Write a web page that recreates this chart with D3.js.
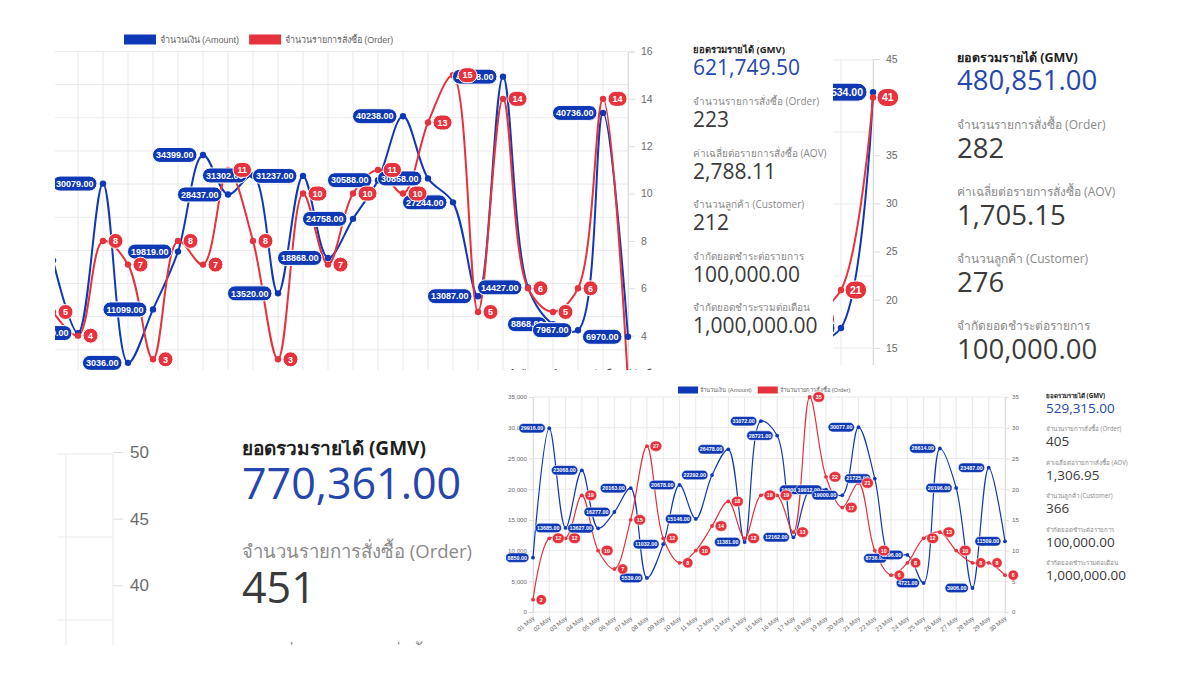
<!DOCTYPE html>
<html>
<head>
<meta charset="utf-8">
<script src="https://cdn.jsdelivr.net/npm/d3@7"></script>
<style>
  html, body { margin: 0; padding: 0; background: #fff; }
  svg { display: block; }
  text { font-family: "Liberation Sans", Arial, "Noto Sans", sans-serif; }
  .stat { font-family: "Open Sans", "Noto Sans", sans-serif; }
</style>
</head>
<body>
<svg id="chart" width="1200" height="675"></svg>
<script>
// ---------- data ----------
// top-left screenshot, dates are cropped off
const amountA = [18500, 7530, 30079, 3036, 11099, 19819, 34399, 28437, 31302, 13520, 31237, 18868,
                 24758, 30588, 40238, 30858, 27244, 13087, 46208, 14427, 8868, 7967, 40736, 6970];
const orderA = [5, 4, 8, 7, 3, 8, 7, 11, 8, 3, 10, 7, 10, 11, 10, 13, 15, 5, 14, 6, 5, 6, 14, 2];
const leftTicksA = [0, 5000, 10000, 15000, 20000, 25000, 30000, 35000, 40000, 45000, 50000];
const rightTicksA = [4, 6, 8, 10, 12, 14, 16];

// narrow strip beside the first stats block
const amountB = [10400, 12778, 45534];
const orderB = [18, 21, 41];
const leftTicksB = [10000, 20000, 30000, 40000, 50000];
const rightTicksB = [15, 20, 25, 30, 35, 45];

// bottom-left strip (axis only)
const leftTicksD = [40000, 50000, 60000];
const rightTicksD = [40, 45, 50];

// bottom-right chart, May
const daysE = ["01 May", "02 May", "03 May", "04 May", "05 May", "06 May", "07 May", "08 May", "09 May", "10 May",
               "11 May", "12 May", "13 May", "14 May", "15 May", "16 May", "17 May", "18 May", "19 May", "20 May",
               "21 May", "22 May", "23 May", "24 May", "25 May", "26 May", "27 May", "28 May", "29 May", "30 May"];
const amountE = [8850, 29916, 13685, 23068, 13627, 16277, 20163, 5539, 11032, 20678, 15146, 22292, 26478, 11381, 31072,
                 28721, 12162, 19900, 19912, 19000, 30077, 21725, 8736, 9296, 4721, 26614, 20196, 3906, 23487, 11509];
const orderE = [2, 12, 12, 19, 10, 7, 15, 27, 12, 8, 10, 14, 18, 12, 19, 19, 13, 35, 22, 17, 21, 10, 6, 8, 12, 13, 10, 8, 8, 6];
const leftTicksE = [0, 5000, 10000, 15000, 20000, 25000, 30000, 35000];
const rightTicksE = [0, 5, 10, 15, 20, 25, 30, 35];

const legendNames = ["จำนวนเงิน (Amount)", "จำนวนรายการสั่งซื้อ (Order)"];
const gmvTitle = "ยอดรวมรายได้ (GMV)";
const statLabels = ["จำนวนรายการสั่งซื้อ (Order)", "ค่าเฉลี่ยต่อรายการสั่งซื้อ (AOV)", "จำนวนลูกค้า (Customer)",
                    "จำกัดยอดชำระต่อรายการ", "จำกัดยอดชำระรวมต่อเดือน"];
const statsB = ["621,749.50", "223", "2,788.11", "212", "100,000.00", "1,000,000.00"];
const statsC = ["480,851.00", "282", "1,705.15", "276", "100,000.00"];
const statsD = ["770,361.00", "451"];
const statsE = ["529,315.00", "405", "1,306.95", "366", "100,000.00", "1,000,000.00"];

// ---------- style ----------
const BLUE = "#0f38b4", RED = "#e6323d", GRID = "#e9e9e9", TICK = "#6b6b6b";

const svg = d3.select("#chart");
const defs = svg.append("defs");
svg.append("rect").attr("width", 1200).attr("height", 675).attr("fill", "#fff");

function panel(id, x, y, w, h) {
    defs.append("clipPath").attr("id", id)
        .append("rect").attr("x", x).attr("y", y).attr("width", w).attr("height", h);
    return svg.append("g").attr("clip-path", `url(#${id})`);
}

function grid(g, xPos, yPos, x0, x1, y0, y1) {
    g.append("g").selectAll("line").data(xPos).join("line")
        .attr("x1", d => d).attr("x2", d => d).attr("y1", y0).attr("y2", y1)
        .attr("stroke", GRID).attr("stroke-width", 1);
    g.append("g").selectAll("line").data(yPos).join("line")
        .attr("x1", x0).attr("x2", x1).attr("y1", d => d).attr("y2", d => d)
        .attr("stroke", GRID).attr("stroke-width", 1);
}

function styleAxis(a, size) {
    a.select(".domain").attr("stroke", "#dcdcdc");
    a.selectAll(".tick line").attr("stroke", "#dcdcdc");
    a.selectAll(".tick text").attr("fill", TICK).attr("font-size", size)
        .attr("font-family", "'Liberation Sans', Arial, sans-serif");
}

// two series, blue pills on the left of blue points, red badges on the right of red points
function series(g, xAt, yL, yR, amount, order, s) {
    const curve = d3.curveCatmullRom.alpha(0.5);
    g.append("path").datum(amount)
        .attr("d", d3.line().x((d, i) => xAt(i)).y(d => yL(d)).curve(curve))
        .attr("fill", "none").attr("stroke", BLUE).attr("stroke-width", s.lw);
    g.append("path").datum(order)
        .attr("d", d3.line().x((d, i) => xAt(i)).y(d => yR(d)).curve(curve))
        .attr("fill", "none").attr("stroke", RED).attr("stroke-width", s.lw);

    g.append("g").selectAll("circle").data(amount).join("circle")
        .attr("cx", (d, i) => xAt(i)).attr("cy", d => yL(d)).attr("r", s.r).attr("fill", BLUE);
    g.append("g").selectAll("circle").data(order).join("circle")
        .attr("cx", (d, i) => xAt(i)).attr("cy", d => yR(d)).attr("r", s.r).attr("fill", RED);

    const pills = g.append("g").selectAll("g").data(amount).join("g")
        .attr("transform", (d, i) => `translate(${xAt(i)},${yL(d)})`);
    pills.each(function(d) {
        const p = d3.select(this);
        const rect = p.append("rect");
        const t = p.append("text").text(d.toFixed(2))
            .attr("font-size", s.font).attr("font-weight", "bold").attr("fill", "#fff")
            .attr("text-anchor", "end").attr("dy", "0.36em").attr("x", -s.gap - s.pad);
        const w = t.node().getComputedTextLength() + 2 * s.pad;
        rect.attr("x", -s.gap - w).attr("y", -s.h / 2).attr("width", w).attr("height", s.h)
            .attr("rx", s.h / 2).attr("fill", BLUE).attr("stroke", "#fff").attr("stroke-width", s.sw);
    });

    const badges = g.append("g").selectAll("g").data(order).join("g")
        .attr("transform", (d, i) => `translate(${xAt(i)},${yR(d)})`);
    badges.each(function(d) {
        const p = d3.select(this);
        const rect = p.append("rect");
        const t = p.append("text").text(d)
            .attr("font-size", s.font).attr("font-weight", "bold").attr("fill", "#fff")
            .attr("text-anchor", "middle").attr("dy", "0.36em");
        const w = Math.max(t.node().getComputedTextLength() + 2 * s.pad + 2, s.bh);
        t.attr("x", s.bgap + w / 2);
        rect.attr("x", s.bgap).attr("y", -s.bh / 2).attr("width", w).attr("height", s.bh)
            .attr("rx", s.bh / 2).attr("fill", RED).attr("stroke", "#fff").attr("stroke-width", s.sw);
    });
}

function legend(g, x, y, boxW, boxH, gap, size) {
    let cx = x;
    legendNames.forEach((name, i) => {
        g.append("rect").attr("x", cx).attr("y", y - boxH / 2).attr("width", boxW).attr("height", boxH)
            .attr("fill", i === 0 ? BLUE : RED);
        const t = g.append("text").attr("x", cx + boxW + size * 0.4).attr("y", y).attr("dy", "0.35em")
            .attr("font-size", size).attr("fill", "#666").text(name);
        cx += boxW + size * 0.4 + t.node().getComputedTextLength() + gap;
    });
}

function stats(g, x, values, labels, L) {
    g.append("text").attr("class", "stat").attr("x", x).attr("y", L.titleY)
        .attr("font-size", L.titleSize).attr("font-weight", "bold").attr("fill", "#1e1e1e").text(gmvTitle);
    g.append("text").attr("class", "stat").attr("x", x).attr("y", L.gmvY)
        .attr("font-size", L.valSize).attr("fill", "#2446ad").text(values[0]);
    labels.forEach((lab, k) => {
        g.append("text").attr("class", "stat").attr("x", x).attr("y", L.labY + k * L.step)
            .attr("font-size", L.labSize).attr("fill", "#8a8a8a").text(lab);
        if (values[k + 1] !== undefined) {
            g.append("text").attr("class", "stat").attr("x", x).attr("y", L.valY + k * L.step)
                .attr("font-size", L.valSize).attr("fill", "#3a3a3a").text(values[k + 1]);
        }
    });
}

// ---------- A: top-left chart ----------
{
    const g = panel("clipA", 55, 28, 605, 342);
    const xA = d3.scaleLinear().domain([0, amountA.length - 1]).range([53, 628]);
    const yL = d3.scaleLinear().domain([0, 50000]).range([383, 51.5]);
    const yR = d3.scaleLinear().domain([2, 16]).range([383, 51.5]);
    grid(g, d3.range(amountA.length).map(xA), leftTicksA.map(yL), 0, 628, 51.5, 391);
    g.append("g").attr("transform", "translate(628,0)")
        .call(d3.axisRight(yR).tickValues(rightTicksA).tickSize(7).tickPadding(6))
        .call(a => styleAxis(a, 10.5));
    legend(g, 124, 39.5, 32, 10, 10, 9);
    series(g, xA, yL, yR, amountA, orderA,
        { lw: 2, r: 3.2, font: 9, h: 15, pad: 3.5, gap: 6, sw: 1, bh: 15, bgap: 5 });
    // cropped caption from the screenshot underneath
    g.append("text").attr("x", 508).attr("y", 377).attr("font-size", 10).attr("fill", "#555")
        .text(statLabels[4] + " (ต่อเดือน)");
}

// ---------- B: stats + narrow chart strip ----------
{
    const g = panel("clipB", 685, 35, 150, 320);
    stats(g, 693, statsB, statLabels,
        { titleY: 53, titleSize: 9.5, gmvY: 75, valSize: 21, labY: 105, labSize: 10, valY: 127, step: 51.6 });

    const s = panel("clipB2", 833, 35, 72, 330);
    const xB = d3.scaleLinear().domain([0, 2]).range([809, 873]);
    const yL = d3.scaleLinear().domain([0, 50000]).range([420, 60]);
    const yR = d3.scaleLinear().domain([7.5, 45]).range([420, 59]);
    grid(s, [0, 1, 2].map(xB), leftTicksB.map(yL), 800, 873, 60, 380);
    s.append("g").attr("transform", "translate(873,0)")
        .call(d3.axisRight(yR).tickValues(rightTicksB).tickSize(7).tickPadding(6))
        .call(a => styleAxis(a, 10.5));
    series(s, xB, yL, yR, amountB, orderB,
        { lw: 2, r: 3.2, font: 10.5, h: 18, pad: 4, gap: 6, sw: 1, bh: 18, bgap: 4 });
}

// ---------- C: stats ----------
{
    const g = panel("clipC", 940, 35, 260, 335);
    stats(g, 957, statsC, statLabels.slice(0, 4),
        { titleY: 62, titleSize: 12.5, gmvY: 90, valSize: 27.5, labY: 129, labSize: 12, valY: 158, step: 67 });
}

// ---------- D: bottom-left strip ----------
{
    const g = panel("clipD", 57, 440, 445, 205);
    const xD = d3.scaleLinear().domain([0, 1]).range([66, 113]);
    const yL = d3.scaleLinear().domain([0, 60000]).range([952, 454]);
    const yR = d3.scaleLinear().domain([35, 50]).range([652, 452]);
    grid(g, [0, 1].map(xD), leftTicksD.map(yL), 40, 113, 454, 700);
    g.append("g").attr("transform", "translate(113,0)")
        .call(d3.axisRight(yR).tickValues(rightTicksD).tickSize(10).tickPadding(7))
        .call(a => styleAxis(a, 17))
        .call(a => a.select(".domain").remove());
    stats(g, 242, statsD, statLabels.slice(0, 2),
        { titleY: 455, titleSize: 19, gmvY: 499, valSize: 43, labY: 558, labSize: 18.5, valY: 603, step: 103 });
}

// ---------- E: bottom-right chart ----------
{
    const g = panel("clipE", 506, 380, 520, 262);
    const xE = d3.scalePoint().domain(daysE).range([533, 1005]);
    const yL = d3.scaleLinear().domain([0, 35000]).range([612, 397]);
    const yR = d3.scaleLinear().domain([0, 35]).range([612, 397]);
    grid(g, daysE.map(xE), leftTicksE.map(yL), 533, 1005, 397, 616);
    g.append("g").attr("transform", "translate(533,0)")
        .call(d3.axisLeft(yL).tickValues(leftTicksE).tickSize(4).tickPadding(2).tickFormat(d3.format(",")))
        .call(a => styleAxis(a, 6.2));
    g.append("g").attr("transform", "translate(1005,0)")
        .call(d3.axisRight(yR).tickValues(rightTicksE).tickSize(4).tickPadding(3))
        .call(a => styleAxis(a, 6.2));
    g.append("g").selectAll("text").data(daysE).join("text")
        .attr("transform", d => `translate(${xE(d) + 2},${619}) rotate(-40)`)
        .attr("text-anchor", "end").attr("font-size", 6.2).attr("fill", TICK).text(d => d);
    legend(g, 678, 390, 20, 7, 6, 5.8);
    const xAt = i => xE(daysE[i]);
    series(g, xAt, yL, yR, amountE, orderE,
        { lw: 1.2, r: 1.9, font: 5.4, h: 9.5, pad: 2, gap: 4, sw: 0.6, bh: 10.5, bgap: 3 });

    const st = panel("clipE2", 1040, 385, 160, 205);
    stats(st, 1046, statsE, statLabels,
        { titleY: 397.5, titleSize: 6.2, gmvY: 413, valSize: 13.5, labY: 431, labSize: 6.2, valY: 446, step: 33.5 });
}
</script>
</body>
</html>
